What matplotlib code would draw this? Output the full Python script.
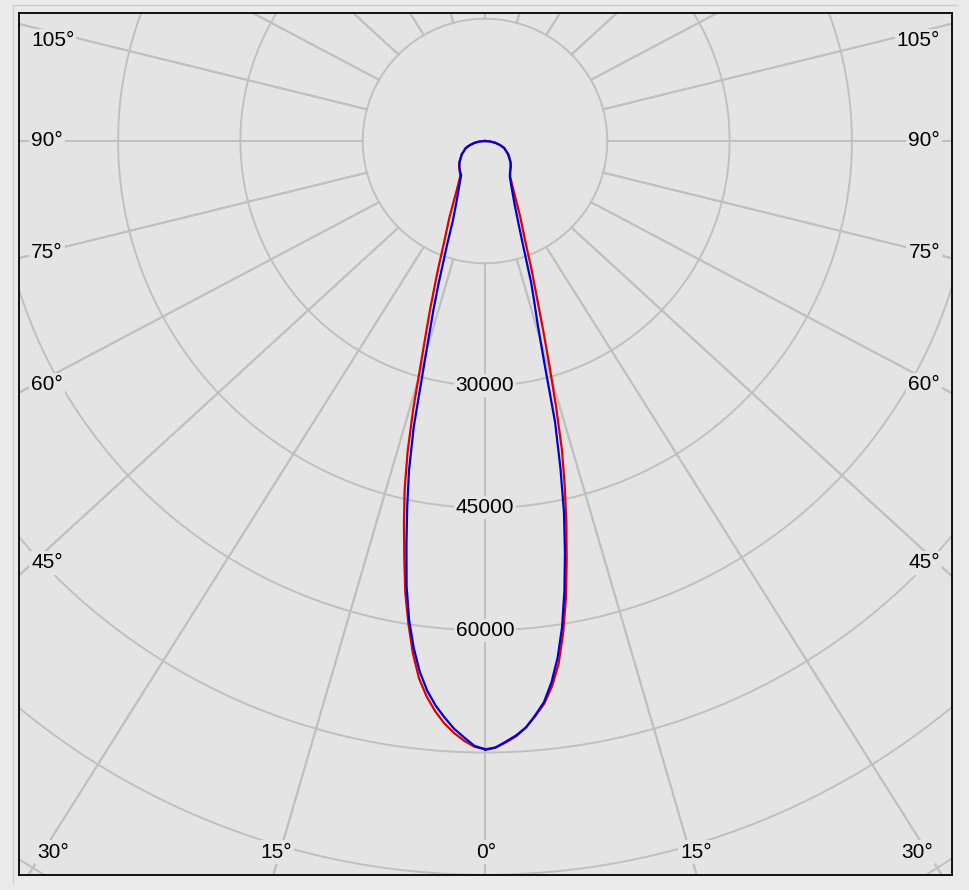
import numpy as np
import matplotlib
matplotlib.use("Agg")
import matplotlib.pyplot as plt
from matplotlib.lines import Line2D

# ---------------- data (luminous intensity, cd) ----------------
gamma = [0, 1, 2, 3, 4, 5, 6, 7, 8, 9, 10, 11, 12, 13, 14, 15, 16, 17, 18,
         20, 22, 25, 30, 35, 40, 45, 50, 60, 70, 75, 80, 85, 90]

red_left = [74600, 74300, 73600, 72700, 71600, 70200, 68500, 66400, 63500, 60000,
            56300, 51900, 47800, 43800, 39200, 34000, 28700, 24900, 21900,
            17000, 13400, 10300, 6900, 5300, 4800, 4460, 4100, 3300, 2500, 1900, 1300, 650, 0]
red_right = [74600, 74400, 73800, 73100, 72100, 70800, 69400, 67400, 64800, 61200,
             57100, 52500, 48000, 43500, 39000, 33600, 28700, 24600, 21200,
             16600, 13100, 10200, 7000, 5400, 4800, 4460, 4100, 3300, 2500, 1900, 1300, 650, 0]
blue_left = [74600, 74200, 73200, 72200, 70900, 69500, 67800, 65600, 62800, 59500,
             55400, 50500, 45900, 41400, 36100, 29600, 25000, 21600, 18500,
             13700, 10500, 8300, 6300, 5100, 4800, 4460, 4100, 3300, 2500, 1900, 1300, 650, 0]
blue_right = [74700, 74400, 73700, 73000, 72100, 70700, 69200, 66900, 64000, 60400,
              56100, 51400, 46600, 41100, 35500, 28000, 23500, 20700, 18400,
              13700, 11000, 8600, 6500, 5300, 4800, 4460, 4100, 3300, 2500, 1900, 1300, 650, 0]

ring_values = [15000, 30000, 45000, 60000, 75000, 90000, 105000, 120000]
ring_labels = [30000, 45000, 60000]
radial_angles = list(range(0, 360, 15))

left_angle_labels = ["105°", "90°", "75°", "60°", "45°"]
bottom_angle_labels = ["30°", "15°", "0°", "15°", "30°"]

# ---------------- styling / layout ----------------
W, H = 969, 890
fig = plt.figure(figsize=(W / 100, H / 100), dpi=100, facecolor="#eaeaea")

L, T, R, B = 19, 13, 952, 875      # axes box in pixels
cx, cy = 485, 141                  # pole position in pixels
scale = 15000 / 122.3              # cd per pixel

ax = fig.add_axes([L / W, (H - B) / H, (R - L) / W, (B - T) / H])
ax.set_facecolor("#e4e4e4")
ax.set_xlim((L - cx) * scale, (R - cx) * scale)
ax.set_ylim(-(B - cy) * scale, (cy - T) * scale)
ax.set_xticks([])
ax.set_yticks([])
for s in ax.spines.values():
    s.set_color("black")
    s.set_linewidth(1.3)

gridc = "#c0c0c0"
glw = 1.4

# rings
t = np.linspace(0, 2 * np.pi, 1441)
for v in ring_values:
    ax.plot(v * np.cos(t), v * np.sin(t), color=gridc, lw=glw, zorder=1)

# radial lines (start on the innermost ring)
r0 = ring_values[0]
Rb = 125000
for a in radial_angles:
    th = np.radians(a)
    xs = [r0 * np.sin(th), 1.08 * Rb * np.sin(th)]
    ys = [-r0 * np.cos(th), -Rb * np.cos(th)]
    ax.plot(xs, ys, color=gridc, lw=glw, zorder=1)
    ax.plot([-x for x in xs], ys, color=gridc, lw=glw, zorder=1)

fs = 15
fam = ["Liberation Sans", "DejaVu Sans"]
bg = ax.get_facecolor()
box = dict(facecolor=bg, edgecolor="none", pad=1.5)

# intensity labels on the 0° axis
for v in ring_labels:
    ax.text(0, -v, f"{v}", ha="center", va="center", fontsize=fs, family=fam,
            bbox=box, zorder=3)

# angle labels (pixel placement converted to axes fraction)
def axf(px, py):
    return (px - L) / (R - L), (B - py) / (B - T)

left_y = [41, 141, 253, 385, 563]
for lab, py in zip(left_angle_labels, left_y):
    x0, y0 = axf(31, py)
    ax.text(x0, y0, lab, transform=ax.transAxes, ha="left", va="center",
            fontsize=fs, family=fam, bbox=box, zorder=3)
    x1, _ = axf(940, py)
    ax.text(x1, y0, lab, transform=ax.transAxes, ha="right", va="center",
            fontsize=fs, family=fam, bbox=box, zorder=3)

bottom_x = [53, 276, 486, 696, 917]
for lab, px in zip(bottom_angle_labels, bottom_x):
    x0, y0 = axf(px, 852)
    ax.text(x0, y0, lab, transform=ax.transAxes, ha="center", va="center",
            fontsize=fs, family=fam, bbox=box, zorder=3)

# ---------------- curves ----------------
g = np.radians(np.array(gamma, dtype=float))

def curve(I_left, I_right):
    Il = np.array(I_left, dtype=float)
    Ir = np.array(I_right, dtype=float)
    x = np.concatenate([-Il[::-1] * np.sin(g[::-1]), Ir * np.sin(g)])
    y = np.concatenate([-Il[::-1] * np.cos(g[::-1]), -Ir * np.cos(g)])
    return x, y

xr, yr = curve(red_left, red_right)
xb, yb = curve(blue_left, blue_right)
ax.plot(xr, yr, color="#e00000", lw=1.6, zorder=4)
ax.plot(xb, yb, color="#0000d8", lw=1.6, zorder=5)

# outer panel border (left and top edges)
fig.add_artist(Line2D([12.7 / W, 12.7 / W], [1 - 5 / H, 1 - 883 / H],
                      color="#cdcdcd", lw=1.0, transform=fig.transFigure))
fig.add_artist(Line2D([12.7 / W, 957 / W], [1 - 5 / H, 1 - 5 / H],
                      color="#cdcdcd", lw=1.0, transform=fig.transFigure))

fig.savefig("out.png", dpi=100, facecolor=fig.get_facecolor())
